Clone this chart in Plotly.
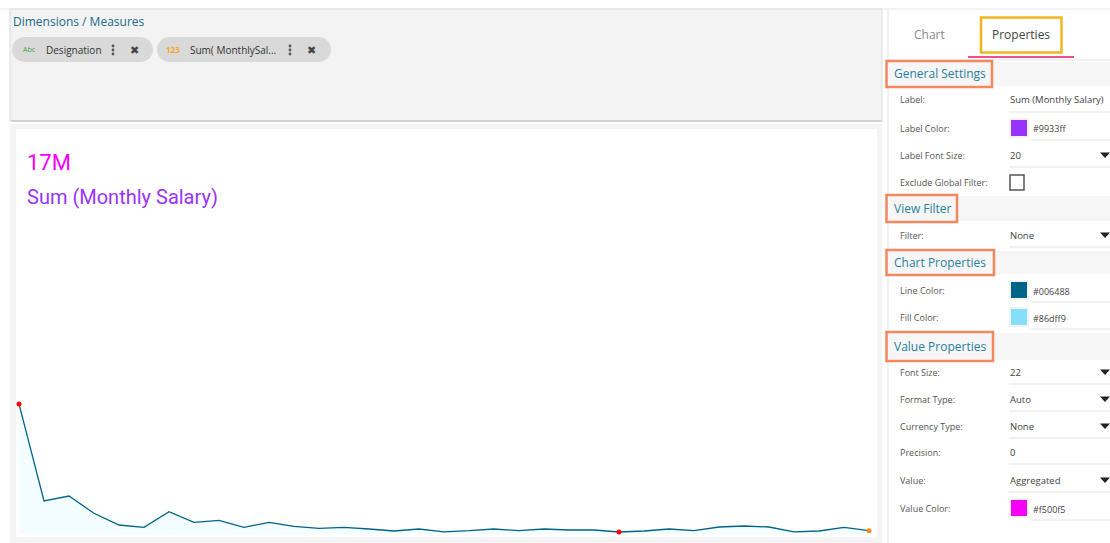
import plotly.graph_objects as go

W, H = 1110, 543

# ---- chart data (Designation vs Sum(Monthly Salary)) ----
designations = [
    "Software Engineer", "Senior Software Engineer", "Associate", "Team Lead",
    "Project Manager", "Business Analyst", "Consultant", "QA Engineer",
    "Senior Consultant", "Designer", "Developer", "Data Analyst",
    "Architect", "HR Executive", "Accountant", "Sales Executive",
    "Technical Lead", "Intern", "Support Engineer", "Network Engineer",
    "Admin", "Marketing Executive", "DevOps Engineer", "Product Manager",
    "Office Assistant", "Trainer", "Scrum Master", "Content Writer",
    "Delivery Manager", "Senior Manager", "Operations Manager", "Receptionist",
    "System Admin", "Finance Manager", "Director",
]
salary = [
    5395000, 1370000, 1577000, 859000, 374000, 278000, 925000, 486000,
    569000, 278000, 486000, 320000, 237000, 278000, 208000, 125000,
    208000, 91000, 137000, 208000, 137000, 208000, 166000, 166000,
    83000, 125000, 208000, 137000, 291000, 332000, 291000, 87000,
    125000, 278000, 137000,
]

label_text = "Sum (Monthly Salary)"
label_color = "#9933ff"
value_color = "#f500f5"
line_color = "#006488"
fill_color = "#86dff9"

total = sum(salary)
value_text = f"{round(total / 1e6)}M"

fig = go.Figure()

# sparkline
fig.add_scatter(x=designations, y=salary, mode="lines", fill="tozeroy",
                line=dict(color=line_color, width=1.3),
                fillcolor="rgba(134,223,249,0.10)", showlegend=False,
                hoverinfo="x+y")
i_max = salary.index(max(salary))
i_min = salary.index(min(salary))
i_last = len(salary) - 1
fig.add_scatter(x=[designations[i_max], designations[i_min], designations[i_last]],
                y=[salary[i_max], salary[i_min], salary[i_last]],
                mode="markers", cliponaxis=False, showlegend=False,
                marker=dict(size=5, color=["#ff0000", "#ff0000", "#ff8c1a"]))


# ---- UI chrome, given in screen pixels and converted to paper units ----
def px(x):
    return x / W


def py(y):
    return 1 - y / H


def rect(x0, y0, x1, y1, fill=None, line=None, lw=1, layer="below"):
    fig.add_shape(type="rect", xref="paper", yref="paper",
                  x0=px(x0), y0=py(y0), x1=px(x1), y1=py(y1),
                  fillcolor=fill or "rgba(0,0,0,0)",
                  line=dict(color=line or "rgba(0,0,0,0)", width=lw if line else 0),
                  layer=layer)


def hline(x0, x1, y, color="#e3e3e3", lw=1):
    fig.add_shape(type="line", xref="paper", yref="paper", x0=px(x0), x1=px(x1),
                  y0=py(y), y1=py(y), line=dict(color=color, width=lw), layer="below")


def text(x, y, s, size=10, color="#555", family="Open Sans", anchor="left", bold=False):
    if bold:
        s = f"<b>{s}</b>"
    fig.add_annotation(xref="paper", yref="paper", x=px(x), y=py(y), text=s,
                       showarrow=False, xanchor=anchor, yanchor="middle",
                       font=dict(size=size, color=color, family=family))


def pill(x0, y0, x1, y1, fill="#d9d9d9"):
    r = (y1 - y0) / 2
    rect(x0 + r, y0, x1 - r, y1, fill=fill)
    for cx0 in (x0, x1 - 2 * r):
        fig.add_shape(type="circle", xref="paper", yref="paper",
                      x0=px(cx0), x1=px(cx0 + 2 * r), y0=py(y0), y1=py(y1),
                      fillcolor=fill, line=dict(width=0), layer="below")


def arrow(x, y):
    pts = [(x - 5, y - 2.5), (x + 5, y - 2.5), (x, y + 3)]
    path = "M " + " L ".join(f"{px(a):.5f},{py(b):.5f}" for a, b in pts) + " Z"
    fig.add_shape(type="path", xref="paper", yref="paper", path=path,
                  fillcolor="#222", line=dict(width=0), layer="above")


def dots(x, y):
    for dy in (-4, 0, 4):
        fig.add_shape(type="circle", xref="paper", yref="paper",
                      x0=px(x - 1.4), x1=px(x + 1.4), y0=py(y + dy - 1.4), y1=py(y + dy + 1.4),
                      fillcolor="#555", line=dict(width=0), layer="above")


# page border line
hline(0, W, 9, color="#e6e6e6")

# dimensions / measures box
rect(10, 9, 882, 121, fill="#f3f3f3", line="#dcdcdc")
hline(11, 882, 121, color="#c9c9c9", lw=1.5)
text(11, 21, "Dimensions / Measures", size=12, color="#1a6b8c")
pill(12, 37, 153, 62)
text(21, 50, "Abc", size=7, color="#3aaa35")
text(44, 50, "Designation", size=10, color="#333")
dots(113, 50)
text(134, 50, "✖", size=11, color="#444", anchor="center")
pill(157, 37, 331, 62)
text(164, 50, "123", size=8, color="#f5a623", bold=True)
text(188, 50, "Sum( MonthlySal...", size=10, color="#333")
dots(290, 50)
text(311, 50, "✖", size=11, color="#444", anchor="center")

# chart container
rect(10, 124, 882, 543, fill="#f4f4f4")
rect(16, 129, 877, 537, fill="#ffffff")
text(25, 162, value_text, size=22, color=value_color, family="Roboto")
text(25, 197, label_text, size=20, color=label_color, family="Roboto")

# properties panel
fig.add_shape(type="line", xref="paper", yref="paper", x0=px(888), x1=px(888),
              y0=py(9), y1=py(H), line=dict(color="#e3e3e3", width=1), layer="below")
text(929, 35, "Chart", size=12, color="#8a8a8a", anchor="center")
text(1021, 35, "Properties", size=12, color="#444", anchor="center")
rect(981, 17.5, 1061.5, 52.5, line="#f2b51c", lw=2.5, layer="above")
hline(968, 1074, 57, color="#f0508a", lw=2)
hline(888, W, 60, color="#e3e3e3")

sections = [("General Settings", 61, 87, 992), ("View Filter", 195, 222, 957),
            ("Chart Properties", 250, 275, 994), ("Value Properties", 332, 361, 993)]
for name, y0, y1, x1 in sections:
    rect(888, y0 + 1, W, y1 - 1, fill="#f6f6f6")
    rect(886.5, y0, x1, y1, line="#f4875e", lw=2.5, layer="above")
    text(892, (y0 + y1) / 2, name, size=12, color="#2a80a0")

rows = [
    ("Label:", 100, "Sum (Monthly Salary)", None, False),
    ("Label Color:", 128, "#9933ff", "#9933ff", False),
    ("Label Font Size:", 155, "20", None, True),
    ("Exclude Global Filter:", 182, None, None, False),
    ("Filter:", 235, "None", None, True),
    ("Line Color:", 290, "#006488", "#006488", False),
    ("Fill Color:", 317, "#86dff9", "#86dff9", False),
    ("Font Size:", 372, "22", None, True),
    ("Format Type:", 399, "Auto", None, True),
    ("Currency Type:", 426, "None", None, True),
    ("Precision:", 452, "0", None, False),
    ("Value:", 480, "Aggregated", None, True),
    ("Value Color:", 508, "#f500f5", "#f500f5", False),
]
for lab, y, val, swatch, dd in rows:
    text(898, y, lab, size=9, color="#555")
    if val is None:
        rect(1010, 175, 1024, 190, fill="#fff", line="#555", lw=1.5, layer="above")
        continue
    if swatch:
        rect(1010, y - 9, 1028, y + 9, fill="#ffffff", line="#e6e6e6")
        rect(1011, y - 8, 1027, y + 8, fill=swatch)
        text(1031, y + 1, val, size=9, color="#444")
        hline(1031, W, y + 12)
    else:
        text(1008, y, val, size=9.5, color="#444")
        hline(1009, W, y + 12)
    if dd:
        arrow(1105, y)

fig.update_layout(
    width=W, height=H, margin=dict(l=0, r=0, t=0, b=0),
    paper_bgcolor="#ffffff", plot_bgcolor="rgba(0,0,0,0)",
    xaxis=dict(domain=[px(19), px(869)], range=[0, len(salary) - 1],
               visible=False, fixedrange=True),
    yaxis=dict(domain=[py(534), py(404)], range=[0, max(salary)],
               visible=False, fixedrange=True),
    showlegend=False,
)

# drop the browser's default 8px body margin so the page lines up with the window
fig.write_html("out.html", config={"displayModeBar": False},
               post_script="document.body.style.margin='0';")
